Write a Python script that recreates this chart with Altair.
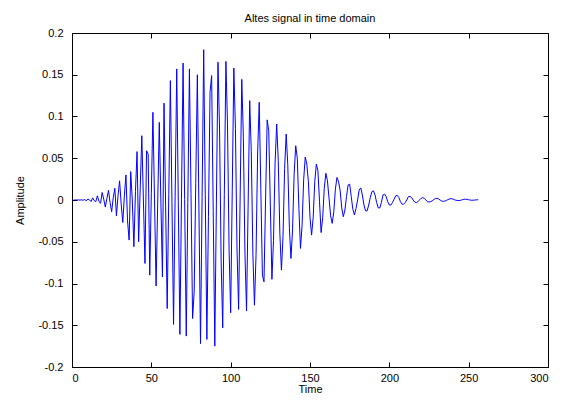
import altair as alt
import pandas as pd

# sample index (1..256) and amplitude
time_index = list(range(1, 257))
amplitude = [
    0.0, 0.0, 0.0, 0.0001, -0.0001, 0.0002, -0.0003, 0.0006, -0.0010, 0.0012,
    0.0002, -0.0018, 0.0025, -0.0008, -0.0020, 0.0050, -0.0015, -0.0040, 0.0090, 0.0010,
    -0.0085, 0.0020, 0.0115, -0.0030, -0.0140, 0.0030, 0.0140, -0.0190, 0.0050, 0.0230,
    -0.0050, -0.0270, 0.0050, 0.0300, -0.0250, -0.0480, 0.0340, 0.0000, -0.0560, 0.0100,
    0.0580, -0.0500, 0.0150, 0.0770, 0.0000, -0.0760, 0.0590, 0.0550, -0.0900, 0.0075,
    0.1050, 0.0010, -0.1030, -0.0050, 0.0930, 0.0000, -0.0920, 0.1160, -0.0070, -0.1300,
    0.0065, 0.1430, -0.0030, -0.1490, 0.0040, 0.1570, -0.0020, -0.1610, 0.0015, 0.1640,
    0.0005, -0.1630, -0.0030, 0.1570, 0.0075, -0.1420, -0.1100, 0.0200, 0.1500, -0.0110,
    -0.1720, 0.0040, 0.1800, 0.0065, -0.1670, -0.0200, 0.1290, 0.1490, -0.0130, -0.1750,
    -0.0050, 0.1650, 0.0850, -0.0740, -0.1530, 0.0065, 0.1660, 0.0908, -0.0598, -0.1350,
    0.0115, 0.1580, 0.0858, -0.0588, -0.1310, 0.0070, 0.1445, 0.0750, -0.0636, -0.1330,
    -0.0070, 0.1190, 0.0578, -0.0648, -0.1260, -0.0653, 0.0563, 0.1170, 0.0135, -0.0900,
    -0.0980, 0.0000, 0.0960, 0.0830, -0.0060, -0.0950, -0.0485, 0.0445, 0.0910, 0.0470,
    -0.0400, -0.0840, -0.0430, 0.0380, 0.0790, 0.0420, -0.0330, -0.0700, -0.0360, 0.0310,
    0.0650, 0.0500, -0.0100, -0.0580, -0.0306, 0.0240, 0.0515, 0.0430, 0.0218, -0.0208,
    -0.0420, -0.0210, 0.0220, 0.0430, 0.0350, -0.0020, -0.0390, -0.0210, 0.0140, 0.0320,
    0.0230, 0.0020, -0.0190, -0.0280, -0.0140, 0.0130, 0.0270, 0.0220, 0.0115, -0.0095,
    -0.0200, -0.0120, 0.0040, 0.0180, 0.0190, 0.0040, -0.0110, -0.0180, -0.0100, 0.0000,
    0.0120, 0.0145, 0.0060, -0.0060, -0.0130, -0.0130, -0.0060, 0.0030, 0.0100, 0.0110,
    0.0060, -0.0030, -0.0095, -0.0095, -0.0030, 0.0060, 0.0070, 0.0040, -0.0020, -0.0060,
    -0.0060, -0.0030, 0.0010, 0.0050, 0.0055, 0.0030, -0.0020, -0.0050, -0.0050, -0.0030,
    0.0000, 0.0040, 0.0043, 0.0030, 0.0000, -0.0025, -0.0032, -0.0020, 0.0000, 0.0020,
    0.0028, 0.0020, 0.0000, -0.0020, -0.0024, -0.0020, -0.0010, 0.0005, 0.0017, 0.0020,
    0.0013, 0.0000, -0.0012, -0.0016, -0.0013, -0.0005, 0.0005, 0.0013, 0.0016, 0.0012,
    0.0004, -0.0003, -0.0006, -0.0006, -0.0003, 0.0003, 0.0008, 0.0010, 0.0008, 0.0003,
    -0.0001, -0.0003, -0.0002, 0.0000, 0.0002, 0.0003,
]
x_ticks = [0, 50, 100, 150, 200, 250, 300]
y_ticks = [-0.2, -0.15, -0.1, -0.05, 0, 0.05, 0.1, 0.15, 0.2]

df = pd.DataFrame({"Time": time_index, "Amplitude": amplitude})

W, H = 476, 334
FONT = "Liberation Sans"

xs = alt.Scale(domain=[0, 300], nice=False, zero=False)
ys = alt.Scale(domain=[-0.2, 0.2], nice=False, zero=False)

label_axis_common = dict(
    grid=False, domain=False, ticks=False, tickSize=0,
    labelFont=FONT, labelFontSize=11, labelColor="black",
    titleFont=FONT, titleFontSize=11, titleFontWeight="normal", titleColor="black",
)


def tick_axis(orient, offset, values):
    return alt.Axis(
        orient=orient, offset=offset, values=values, labels=False, title="",
        grid=False, domain=False, ticks=True, tickSize=5, tickColor="black",
        tickWidth=1,
    )


base = alt.Chart(df)

main = base.mark_line(color="#0000ff", strokeWidth=1).encode(
    x=alt.X("Time:Q", scale=xs, axis=alt.Axis(
        orient="bottom", values=x_ticks, title="Time", labelPadding=5,
        titlePadding=0, **label_axis_common)),
    y=alt.Y("Amplitude:Q", scale=ys, axis=alt.Axis(
        orient="left", values=y_ticks, title="Amplitude", labelPadding=9,
        titlePadding=12, labelExpr="'' + datum.value", **label_axis_common)),
)

ticks_a = base.mark_line(opacity=0).encode(
    x=alt.X("Time:Q", scale=xs, axis=tick_axis("top", -H, x_ticks)),
    y=alt.Y("Amplitude:Q", scale=ys, axis=tick_axis("right", -W, y_ticks)),
)

ticks_b = base.mark_line(opacity=0).encode(
    x=alt.X("Time:Q", scale=xs, axis=tick_axis("bottom", -H, x_ticks)),
    y=alt.Y("Amplitude:Q", scale=ys, axis=tick_axis("left", -W, y_ticks)),
)

chart = alt.layer(main, ticks_a, ticks_b).resolve_axis(
    x="independent", y="independent"
).properties(
    width=W,
    height=H,
    title=alt.TitleParams(
        "Altes signal in time domain", font=FONT, fontSize=11,
        fontWeight="normal", color="black", offset=3, anchor="middle",
    ),
    padding={"left": 64, "top": 25, "right": 12, "bottom": 30},
    autosize=alt.AutoSizeParams(type="none"),
    background="white",
).configure_view(stroke="black", strokeWidth=1)

chart.save("out.html", embed_options={"renderer": "svg", "actions": False})
